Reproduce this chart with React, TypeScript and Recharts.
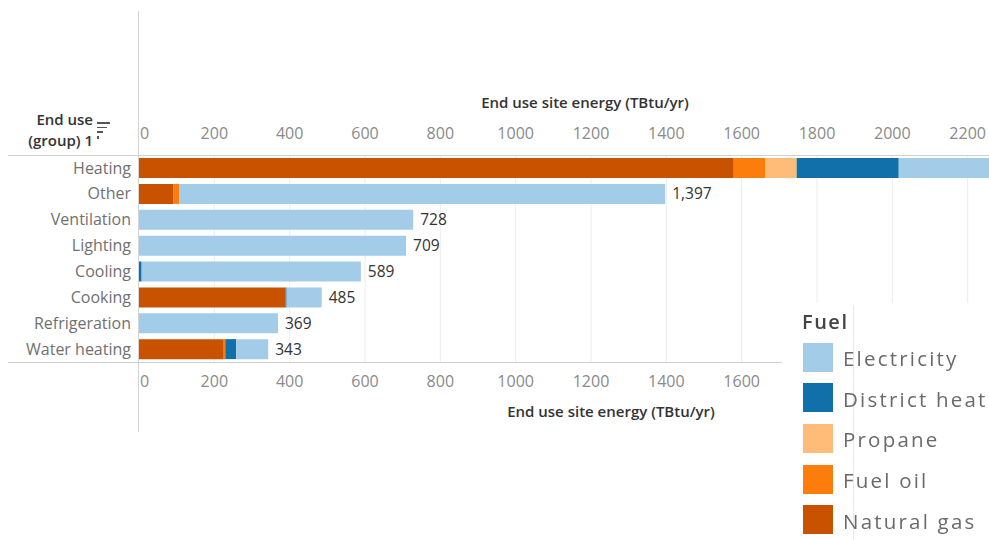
import React from 'react';
import { BarChart, Bar, XAxis, YAxis, CartesianGrid, LabelList } from 'recharts';

const categories = ['Heating', 'Other', 'Ventilation', 'Lighting', 'Cooling', 'Cooking', 'Refrigeration', 'Water heating'];
const naturalGas = [1579, 92, 0, 0, 0, 389, 0, 225];
const fuelOil = [83, 15, 0, 0, 0, 0, 0, 4];
const propane = [84, 0, 0, 0, 0, 0, 0, 0];
const districtHeat = [271, 0, 0, 0, 7, 3, 0, 29];
const electricity = [290, 1290, 728, 709, 582, 93, 369, 85];
const topTicks = [0, 200, 400, 600, 800, 1000, 1200, 1400, 1600, 1800, 2000, 2200];
const bottomTicks = [0, 200, 400, 600, 800, 1000, 1200, 1400, 1600];
const gridValues = [200, 400, 600, 800, 1000, 1200, 1400, 1600, 1800, 2000, 2200, 2400];

const fuels = [
  { key: 'naturalGas', name: 'Natural gas', color: '#c85200' },
  { key: 'fuelOil', name: 'Fuel oil', color: '#fc7d0b' },
  { key: 'propane', name: 'Propane', color: '#ffbc79' },
  { key: 'districtHeat', name: 'District heat', color: '#1170aa' },
  { key: 'electricity', name: 'Electricity', color: '#a3cce9' },
];

const data = categories.map((c, i) => ({
  name: c,
  naturalGas: naturalGas[i],
  fuelOil: fuelOil[i],
  propane: propane[i],
  districtHeat: districtHeat[i],
  electricity: electricity[i],
  total: naturalGas[i] + fuelOil[i] + propane[i] + districtHeat[i] + electricity[i],
}));

const FONT = '"Open Sans", "Noto Sans", sans-serif';
const CHART_W = 1043;
const CHART_H = 540;

const TopTick = (props: any) => {
  const { x, y, payload } = props;
  const first = payload.value === 0;
  return (
    <text x={first ? x + 1 : x} y={y} dy={-8} textAnchor={first ? 'start' : 'middle'} fill="#8a8a8a" fontSize={16} fontFamily={FONT}>
      {payload.value}
    </text>
  );
};

const BottomTick = (props: any) => {
  const { x, y, payload } = props;
  const first = payload.value === 0;
  return (
    <text x={first ? x + 1 : x} y={y} dy={17} textAnchor={first ? 'start' : 'middle'} fill="#8a8a8a" fontSize={16} fontFamily={FONT}>
      {payload.value}
    </text>
  );
};

const legendOrder = ['electricity', 'districtHeat', 'propane', 'fuelOil', 'naturalGas'];

export default function App() {
  return (
    <div style={{ position: 'fixed', left: 0, top: 0, width: 989, height: 540, overflow: 'hidden', background: '#fff', fontFamily: FONT }}>
      {/* top axis chart (same geometry, transparent bars) */}
      <div style={{ position: 'absolute', left: 0, top: 0, pointerEvents: 'none' }}>
        <BarChart
          width={CHART_W}
          height={CHART_H}
          data={data}
          layout="vertical"
          margin={{ top: 125, right: 0, bottom: 178, left: 0 }}
          barSize={20}
        >
          <XAxis
            xAxisId="top"
            orientation="top"
            type="number"
            domain={[0, 2400]}
            ticks={topTicks}
            height={30}
            axisLine={false}
            tickLine={false}
            tick={<TopTick />}
            interval={0}
          />
          <YAxis type="category" dataKey="name" width={139} axisLine={false} tickLine={false} tick={false} />
          {fuels.map((f) => (
            <Bar key={f.key} dataKey={f.key} stackId="t" fill={f.color} fillOpacity={0} xAxisId="top" isAnimationActive={false} />
          ))}
        </BarChart>
      </div>

      {/* main chart */}
      <div style={{ position: 'absolute', left: 0, top: 0 }}>
        <BarChart
          width={CHART_W}
          height={CHART_H}
          data={data}
          layout="vertical"
          margin={{ top: 155, right: 0, bottom: 148, left: 0 }}
          barSize={20}
        >
          <CartesianGrid horizontal={false} vertical={true} stroke="#ececec" xAxisId="bottom" verticalValues={gridValues} />
          <XAxis
            xAxisId="bottom"
            orientation="bottom"
            type="number"
            domain={[0, 2400]}
            ticks={bottomTicks}
            height={30}
            axisLine={false}
            tickLine={false}
            tick={<BottomTick />}
            interval={0}
          />
          <YAxis
            type="category"
            dataKey="name"
            width={139}
            axisLine={false}
            tickLine={false}
            tick={{ fill: '#707070', fontSize: 16, fontFamily: FONT }}
            interval={0}
          />
          {fuels.map((f) => (
            <Bar key={f.key} dataKey={f.key} name={f.name} stackId="a" fill={f.color} xAxisId="bottom" isAnimationActive={false}>
              {f.key === 'electricity' ? (
                <LabelList
                  dataKey="total"
                  position="right"
                  offset={7}
                  fill="#333"
                  fontSize={15.5}
                  fontFamily={FONT}
                  formatter={(v: any) => Number(v).toLocaleString('en-US')}
                />
              ) : null}
            </Bar>
          ))}
        </BarChart>
      </div>

      {/* frame lines */}
      <div style={{ position: 'absolute', left: 138, top: 11, width: 1, height: 421, background: '#d4d4d4' }} />
      <div style={{ position: 'absolute', left: 8, top: 155, width: 981, height: 1, background: '#d0d0d0' }} />
      <div style={{ position: 'absolute', left: 8, top: 362, width: 774, height: 1, background: '#d0d0d0' }} />

      {/* axis titles */}
      <div style={{ position: 'absolute', left: 385, top: 92, width: 400, textAlign: 'center', fontSize: 15, fontWeight: 600, color: '#333' }}>
        End use site energy (TBtu/yr)
      </div>
      <div style={{ position: 'absolute', left: 411, top: 401, width: 400, textAlign: 'center', fontSize: 15, fontWeight: 600, color: '#333' }}>
        End use site energy (TBtu/yr)
      </div>

      {/* row header */}
      <div style={{ position: 'absolute', left: 6, top: 109, width: 87, textAlign: 'right', fontSize: 15, fontWeight: 600, color: '#333', lineHeight: '21px' }}>
        End use
        <br />
        (group) 1
      </div>
      <div style={{ position: 'absolute', left: 97, top: 122, width: 13, height: 1.5, background: '#555' }} />
      <div style={{ position: 'absolute', left: 97, top: 126.5, width: 10, height: 1.5, background: '#555' }} />
      <div style={{ position: 'absolute', left: 97, top: 131, width: 6, height: 1.5, background: '#555' }} />
      <div style={{ position: 'absolute', left: 97, top: 135.5, width: 1.5, height: 3, background: '#555' }} />

      {/* legend */}
      <div style={{ position: 'absolute', left: 782, top: 303, width: 207, height: 237, background: '#fff' }}>
        <div style={{ position: 'absolute', left: 71, top: 2, width: 1, height: 235, background: '#e8e8e8' }} />
        <div style={{ filter: 'blur(0.5px)' }}>
          <div style={{ position: 'absolute', left: 20, top: 5, fontSize: 20, fontWeight: 600, color: '#444', letterSpacing: 1.5 }}>Fuel</div>
          {legendOrder.map((k, i) => {
            const f = fuels.find((x) => x.key === k)!;
            return (
              <div key={k} style={{ position: 'absolute', left: 21, top: 39 + i * 40.7, height: 30, display: 'flex', alignItems: 'center' }}>
                <div style={{ width: 30, height: 29, background: f.color }} />
                <div style={{ marginLeft: 10, marginTop: 2, fontSize: 20.5, color: '#6a6a6a', whiteSpace: 'nowrap', letterSpacing: 2.2 }}>{f.name}</div>
              </div>
            );
          })}
        </div>
      </div>
    </div>
  );
}
